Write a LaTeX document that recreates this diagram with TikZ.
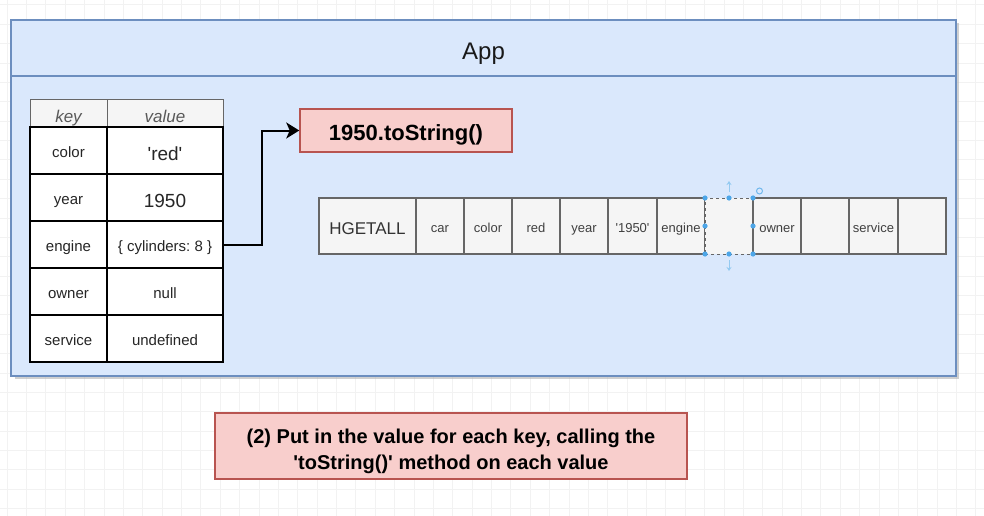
\documentclass[tikz,border=0pt]{standalone}
\usepackage{fontspec}
\setmainfont{Liberation Sans}
\usetikzlibrary{arrows.meta}
\definecolor{appfill}{HTML}{DAE8FC}
\definecolor{appdraw}{HTML}{6C8EBF}
\definecolor{redfill}{HTML}{F8CECC}
\definecolor{reddraw}{HTML}{B85450}
\definecolor{cellfill}{HTML}{F5F5F5}
\definecolor{celldraw}{HTML}{666666}
\definecolor{gridc}{HTML}{F2F2F2}
\definecolor{handlec}{HTML}{4DA6E8}
\newcommand{\sq}{\textquotesingle}
\frenchspacing
\begin{document}
\begin{tikzpicture}[x=1pt,y=-1pt,
  appbox/.style={draw=appdraw, fill=appfill, line width=1.5pt, minimum width=945pt, minimum height=356pt, inner sep=0pt},
  vs/.style={execute at begin node={\rule[-0.25em]{0pt}{#1}}},
  hdr/.style={draw=celldraw, line width=1pt, fill=cellfill, minimum height=27pt, inner sep=0pt, font=\fontsize{17}{20}\selectfont\itshape, text=black!65, vs=1.5em},
  tcell/.style={draw=black, line width=2.2pt, fill=white, minimum height=47pt, inner sep=0pt, font=\fontsize{15}{18}\selectfont, text=black!85},
  kcol/.style={minimum width=77pt, vs=1.4em},
  vcol/.style={minimum width=116pt, vs=1.4em},
  bigval/.style={font=\fontsize{19}{22}\selectfont, vs=1.6em},
  hcell/.style={draw=celldraw, line width=1.5pt, fill=cellfill, minimum height=56pt, minimum width=48pt, inner sep=0pt, font=\fontsize{13}{16}\selectfont, text=black!75, vs=1.55em},
  redbox/.style={draw=reddraw, fill=redfill, line width=1.5pt, inner sep=0pt, text=black},
  conn/.style={draw=black, line width=2pt, -{Stealth[length=13pt,width=16pt,inset=3.5pt]}},
  handle/.style={fill=handlec, draw=none}
]
\useasboundingbox (0,0) rectangle (984,516);
\fill[white] (0,0) rectangle (984,516);
% faint grid
\foreach \i in {0,...,51} \draw[gridc, line width=0.6pt] (7+\i*19.375,0) -- (7+\i*19.375,516);
\foreach \j in {0,...,26} \draw[gridc, line width=0.6pt] (0,4.75+\j*19.375) -- (984,4.75+\j*19.375);

% App container
\fill[black!30, opacity=0.6] (14.5,23.5) rectangle (959,378.5);
\node[appbox] (app) at (483.5,198) {};
\draw[appdraw, line width=1.5pt] (app.west |- 0,76) -- (app.east |- 0,76);
\node[font=\fontsize{24}{28}\selectfont, text=black!90, inner sep=0pt, vs=1.5em] (apptitle) at (483.5,48) {App};

% key/value table
\node[hdr, minimum width=77pt] (hk) at (68.5,113.5) {key};
\node[hdr, minimum width=116pt] (hv) at (165,113.5) {value};
\node[tcell, kcol] (k1) at (68.5,150.5) {color};
\node[tcell, vcol, bigval] (v1) at (165,150.5) {\sq red\sq};
\node[tcell, kcol] (k2) at (68.5,197.5) {year};
\node[tcell, vcol, bigval] (v2) at (165,197.5) {1950};
\node[tcell, kcol] (k3) at (68.5,244.5) {engine};
\node[tcell, vcol] (v3) at (165,244.5) {\{ cylinders: 8 \}};
\node[tcell, kcol] (k4) at (68.5,291.5) {owner};
\node[tcell, vcol] (v4) at (165,291.5) {null};
\node[tcell, kcol] (k5) at (68.5,338.5) {service};
\node[tcell, vcol] (v5) at (165,338.5) {undefined};

% toString box
\node[redbox, minimum width=212pt, minimum height=43pt, font=\fontsize{22}{26}\selectfont\bfseries, vs=1.38em] (tostr) at (406,130.5) {1950.toString()};
\draw[conn] (v3.east) -- (262,244.5) |- (tostr.west);

% HGETALL row
\node[hcell, minimum width=97pt, font=\fontsize{17}{20}\selectfont, text=black!80, vs=1.5em] (c0) at (367.5,226) {HGETALL};
\node[hcell] (c1) at (440,226) {car};
\node[hcell] (c2) at (488,226) {color};
\node[hcell] (c3) at (536,226) {red};
\node[hcell] (c4) at (584,226) {year};
\node[hcell, minimum width=49pt] (c5) at (632.5,226) {\sq 1950\sq};
\node[hcell] (c6) at (681,226) {engine};
\node[hcell, dashed, line width=1pt] (c7) at (729,226) {};
\node[hcell] (c8) at (777,226) {owner};
\node[hcell] (c9) at (825,226) {};
\node[hcell, minimum width=49pt] (c10) at (873.5,226) {service};
\node[hcell] (c11) at (922,226) {};

% selection handles
\foreach \p in {(705,198),(729,198),(753,198),(705,226),(753,226),(705,254),(729,254),(753,254)}
  \fill[handle] \p circle (2.6pt);
\draw[handlec!60, line width=1pt, -{Stealth[length=4pt,width=5pt]}] (729,192) -- (729,181);
\draw[handlec!60, line width=1pt, -{Stealth[length=4pt,width=5pt]}] (729,260) -- (729,271);
\draw[handlec!80, line width=1pt] (759.5,191) circle (3pt);

% bottom note
\node[redbox, minimum width=472pt, minimum height=66pt, align=center, font=\fontsize{20}{26}\selectfont\bfseries] (note) at (451,446) {\rule{0pt}{1.3em}(2) Put in the value for each key, calling the\\ \sq toString()\sq{} method on each value};
\end{tikzpicture}
\end{document}
